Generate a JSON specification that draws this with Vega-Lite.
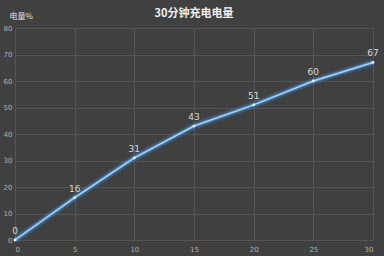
{
  "$schema": "https://vega.github.io/schema/vega-lite/v6.json",
  "width": 358,
  "height": 212,
  "autosize": {"type": "none"},
  "padding": {"left": 15, "top": 28, "right": 11, "bottom": 16},
  "background": "#404040",
  "title": {
    "text": "30分钟充电电量",
    "fontSize": 11,
    "fontWeight": "bold",
    "color": "#f0f0f0",
    "font": "Noto Sans CJK SC",
    "offset": -7,
    "anchor": "middle"
  },
  "config": {
    "view": {"stroke": null},
    "axis": {
      "gridColor": "#555555",
      "gridWidth": 1,
      "domain": false,
      "ticks": false,
      "labelColor": "#b0b0b0",
      "labelFontSize": 7,
      "labelFont": "DejaVu Sans"
    }
  },
  "data": {
    "values": [
      {"t": 0, "p": 0},
      {"t": 5, "p": 16},
      {"t": 10, "p": 31},
      {"t": 15, "p": 43},
      {"t": 20, "p": 51},
      {"t": 25, "p": 60},
      {"t": 30, "p": 67}
    ]
  },
  "encoding": {
    "x": {
      "field": "t",
      "type": "quantitative",
      "scale": {"domain": [0, 30], "nice": false},
      "axis": {"values": [0, 5, 10, 15, 20, 25, 30], "title": null, "labelPadding": 5}
    },
    "y": {
      "field": "p",
      "type": "quantitative",
      "scale": {"domain": [0, 80], "nice": false},
      "axis": {
        "values": [0, 10, 20, 30, 40, 50, 60, 70, 80],
        "title": "电量%",
        "titleAngle": 0,
        "titleAlign": "left",
        "titleBaseline": "middle",
        "titleX": -6,
        "titleY": -12,
        "titleFontSize": 8,
        "titleColor": "#e0e0e0",
        "titleFontWeight": "normal",
        "titleFont": "Noto Sans CJK SC",
        "labelPadding": 3
      }
    }
  },
  "layer": [
    {"mark": {"type": "line", "color": "#3a7fc0", "strokeWidth": 7, "opacity": 0.35}},
    {"mark": {"type": "line", "color": "#5aa0e0", "strokeWidth": 3.5, "opacity": 0.5}},
    {"mark": {"type": "line", "color": "#a8d4f8", "strokeWidth": 1.5}},
    {"mark": {"type": "point", "filled": true, "color": "#e8f4ff", "size": 8, "opacity": 1}},
    {
      "mark": {"type": "text", "dy": -9, "color": "#d8d8d8", "fontSize": 9, "font": "DejaVu Sans"},
      "encoding": {"text": {"field": "p", "type": "quantitative"}}
    }
  ]
}
